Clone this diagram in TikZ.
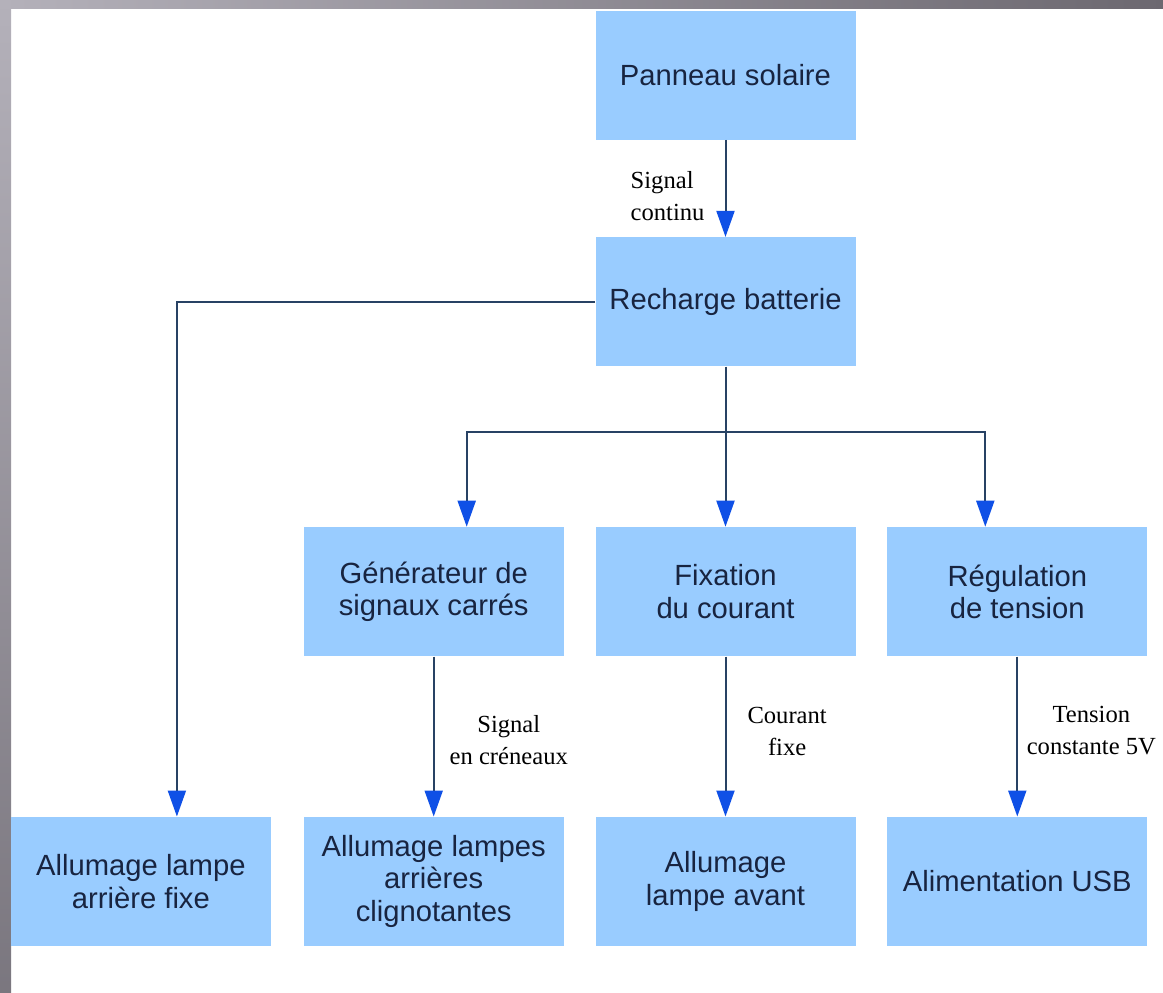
\documentclass[tikz,border=0pt]{standalone}
\usepackage{fontspec}
\setmainfont{Liberation Serif}
\newfontfamily\blockfont{Liberation Sans}
\usetikzlibrary{arrows.meta,positioning}
\definecolor{blockblue}{RGB}{153,204,255}
\definecolor{blocktext}{RGB}{24,36,64}
\definecolor{wire}{RGB}{40,66,100}
\definecolor{tipblue}{RGB}{15,80,230}
\definecolor{frameA}{RGB}{180,177,186}
\definecolor{frameB}{RGB}{108,104,112}
\tikzstyle{block}=[
	rectangle,
	fill=blockblue,
	text=blocktext,
	minimum width=130pt,
	minimum height=64.5pt,
	align=center,
	font=\blockfont\fontsize{14.6}{16.2}\selectfont
]
\tikzstyle{flow}=[
	-{Triangle[length=13pt,width=9pt,color=tipblue]},
	draw=wire,
	line width=1pt
]
\tikzstyle{signal}=[
	align=center,
	inner sep=2pt,
	font=\fontsize{12.3}{16}\selectfont
]

\begin{document}
\begin{tikzpicture}
% page and grey frame
\useasboundingbox (0,0) rectangle (581.5pt,-496pt);
\fill [white] (0,0) rectangle (581.5pt,-496pt);
\shade [left color=frameA, right color=frameB] (0,0) rectangle (581.5pt,-4pt);
\shade [top color=frameA, bottom color=frameB!80!frameA] (0,0) rectangle (5.5pt,-496pt);

\node [block] (Panneau) at (362.75pt,-37.5pt) {Panneau solaire};
\node [block] (Recharge) [below=48.5pt of Panneau] {Recharge batterie};
\node [block] (Fixation) [below=80pt of Recharge] {Fixation\\du courant};
\node [block] (Generateur) [left=15.5pt of Fixation] {Générateur de\\signaux carrés};
\node [block] (Regulation) [right=15.5pt of Fixation] {Régulation\\de tension};
\node [block] (LampeAvant) [below=80pt of Fixation] {Allumage\\lampe avant};
\node [block] (LampesArr) [below=80pt of Generateur] {Allumage lampes\\arrières\\clignotantes};
\node [block] (USB) [below=80pt of Regulation] {Alimentation USB};
\node [block] (LampeFixe) [left=16pt of LampesArr] {Allumage lampe\\arrière fixe};

\draw [flow] (Panneau) -- node [signal, left, align=left, pos=0.58, xshift=-8pt] (SigContinu) {Signal\\continu} (Recharge);
\draw [flow] (Recharge.west) -| ([xshift=18pt]LampeFixe.north);

% branch towards the three stages
\coordinate (Branch) at ([yshift=-32.5pt]Recharge.south);
\draw [draw=wire, line width=1pt] (Recharge) -- (Branch);
\draw [flow] (Branch) -| ([xshift=16.5pt]Generateur.north);
\draw [flow] (Branch) -- (Fixation);
\draw [flow] (Branch) -| ([xshift=-16pt]Regulation.north);

\draw [flow] (Generateur) -- node [signal, right, pos=0.52, xshift=5.5pt] (SigCreneaux) {Signal\\en créneaux} (LampesArr);
\draw [flow] (Fixation) -- node [signal, right, pos=0.47, xshift=8.5pt] (CourantFixe) {Courant\\fixe} (LampeAvant);
\draw [flow] (Regulation) -- node [signal, right, pos=0.46, xshift=2.25pt] (Tension5V) {Tension\\constante 5V} (USB);
\end{tikzpicture}
\end{document}
